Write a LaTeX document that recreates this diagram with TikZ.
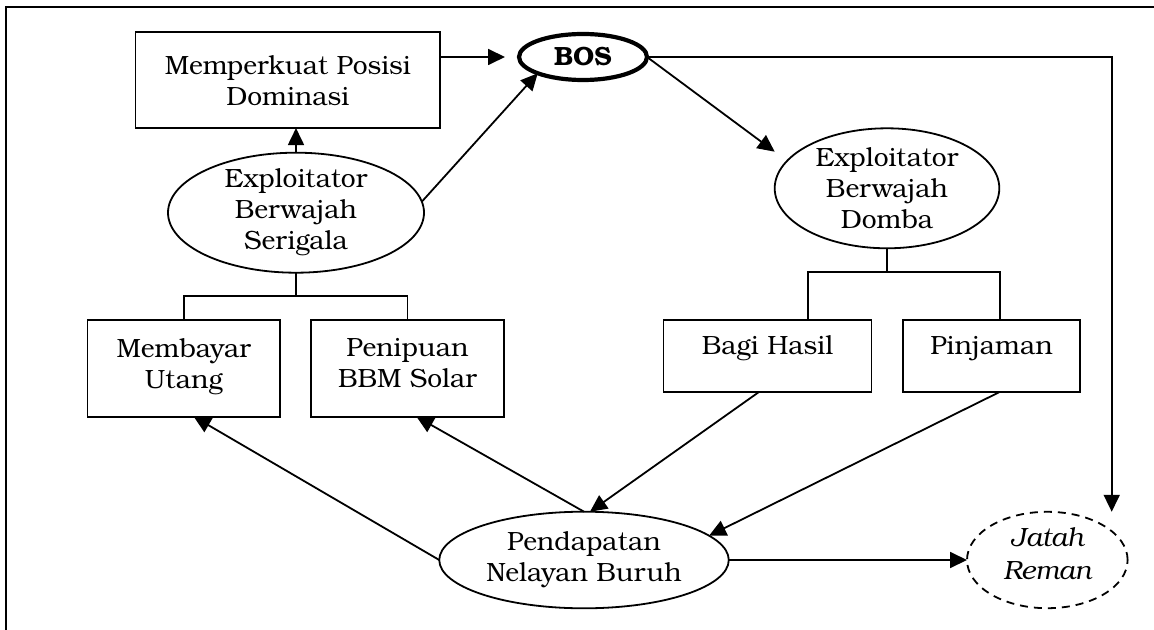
\documentclass[tikz,border=0pt]{standalone}
\usepackage{fontspec}
\setmainfont{texgyrebonum}[Extension=.otf,UprightFont=*-regular,BoldFont=*-bold,ItalicFont=*-italic,BoldItalicFont=*-bolditalic]
\usetikzlibrary{arrows.meta,shapes.geometric,calc}
\begin{document}
\begin{tikzpicture}[x=0.5pt,y=-0.5pt,
  every node/.style={font=\fontsize{13.2}{15.5}\selectfont, outer sep=0pt, inner sep=0pt, line width=0.9pt},
  box/.style={draw, rectangle, align=center},
  ell/.style={draw, ellipse, align=center, inner sep=-4pt},
  arr/.style={line width=0.9pt, -{Triangle[length=8.5pt,width=8pt]}},
  con/.style={line width=0.9pt}]
\useasboundingbox (0,0) rectangle (1154,630);
\clip (0,0) rectangle (1154,630);
\draw[line width=1.1pt] (6.3,660) -- (6.3,6.7) -- (1180,6.7);

% nodes
\node[box, minimum width=152.25pt, minimum height=47.85pt] (mem) at (287.8,80.2) {Memperkuat Posisi\\Dominasi};
\node[ell, line width=2.1pt, minimum width=64pt, minimum height=23pt, font=\fontsize{13.2}{15.5}\selectfont\bfseries] (bos) at (583,57) {BOS};
\node[ell, minimum width=128pt, minimum height=60pt] (ser) at (296,212.7) {Exploitator\\Berwajah\\Serigala};
\node[ell, minimum width=112.3pt, minimum height=60pt] (dom) at (887,188.3) {Exploitator\\Berwajah\\Domba};
\node[box, minimum width=96.25pt, minimum height=48.35pt, text depth=5pt] (memb) at (183.8,368.3) {Membayar\\Utang};
\node[box, minimum width=96.5pt, minimum height=48.35pt, text depth=5pt] (peni) at (407.5,368.3) {Penipuan\\BBM Solar};
\node[box, minimum width=104pt, minimum height=36.15pt, text depth=11pt] (bagi) at (767.5,356.15) {Bagi Hasil};
\node[box, minimum width=88.5pt, minimum height=36.15pt, text depth=11pt] (pinj) at (991.5,356.15) {Pinjaman};
\node[ell, minimum width=144.75pt, minimum height=48.3pt] (pend) at (584,560) {Pendapatan\\Nelayan Buruh};
\node[ell, dashed, dash pattern=on 4pt off 3pt, minimum width=80.3pt, minimum height=48.2pt, text depth=6pt, font=\fontsize{13.2}{16.5}\selectfont\itshape] (jat) at (1047.3,560) {Jatah\\Reman};

% connectors
\draw[arr] (mem.east |- bos.west) -- ($(bos.west)+(-14,0)$);
\draw[arr] (ser.north) -- (ser.north |- mem.south);
\draw[arr] (ser.5) -- (bos.south west);
\draw[arr] (bos.east) -- ($(dom.west)+(0,-36.6)$);
\coordinate (cx) at (1111.7,0);
\draw[arr] (bos.east) -| (cx |- jat.north);
\draw[con] (ser.south) -- ++(0,23.3) coordinate (sj);
\draw[con] (memb.north) |- (sj) -| (peni.north);
\draw[con] (dom.south) -- ++(0,24) coordinate (dj);
\coordinate (bl) at (808,0);
\coordinate (br) at (999.6,0);
\draw[con] (bagi.north -| bl) |- (dj) -| (pinj.north -| br);
\draw[arr] (pend.west) -- ($(memb.south)+(10,0)$);
\draw[arr] (pend.north) -- ($(peni.south)+(9,0)$);
\draw[arr] ($(bagi.south)+(-9,0)$) -- ($(pend.north)+(6,0)$);
\draw[arr] ($(pinj.south)+(7.5,0)$) -- (pend.11);
\draw[arr] (pend.east) -- (jat.west);
\end{tikzpicture}
\end{document}
